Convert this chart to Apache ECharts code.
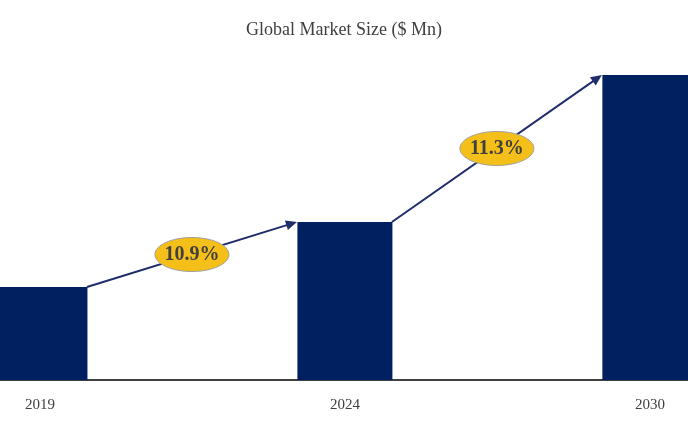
<!DOCTYPE html>
<html>
<head>
<meta charset="utf-8">
<script src="https://cdn.jsdelivr.net/npm/echarts@6/dist/echarts.min.js"></script>
<style>html,body{margin:0;padding:0;background:#fff}#chart{width:688px;height:424px}</style>
</head>
<body>
<div id="chart"></div>
<script>
const years = ["2019", "2024", "2030"];
const marketSize = [93, 158, 305];
const growthLabels = ["10.9%", "11.3%"];

const chart = echarts.init(document.getElementById("chart"));
const serif = "Liberation Serif";

chart.setOption({
    animation: false,
    backgroundColor: "#ffffff",
    title: {
        text: "Global Market Size ($ Mn)",
        left: "center",
        top: 16,
        textStyle: { color: "#404040", fontFamily: serif, fontSize: 18, fontWeight: "normal" }
    },
    grid: { left: 0, right: 0, top: 75, bottom: 44 },
    xAxis: {
        type: "value",
        min: -0.131,
        max: 2.125,
        splitLine: { show: false },
        axisLine: { lineStyle: { color: "#000", width: 1.5 } },
        axisTick: { show: false },
        axisLabel: {
            customValues: [0, 1, 2],
            formatter: v => years[Math.round(v)],
            color: "#404040", fontFamily: serif, fontSize: 15, margin: 18
        }
    },
    yAxis: { type: "value", min: 0, max: 305, show: false },
    series: [{
        type: "bar",
        data: marketSize.map((v, i) => [i, v]),
        barWidth: 95,
        itemStyle: { color: "#002060" }
    }]
});

// arrows between bar tops and growth ellipses
const graphics = [];
for (let i = 0; i < growthLabels.length; i++) {
    const a = chart.convertToPixel({ seriesIndex: 0 }, [i, marketSize[i]]);
    const b = chart.convertToPixel({ seriesIndex: 0 }, [i + 1, marketSize[i + 1]]);
    const x1 = a[0] + 47, y1 = a[1], x2 = b[0] - 48, y2 = b[1];
    const ang = Math.atan2(y2 - y1, x2 - x1);
    graphics.push({
        type: "line", z: 10,
        shape: { x1: x1, y1: y1, x2: x2 - 8 * Math.cos(ang), y2: y2 - 8 * Math.sin(ang) },
        style: { stroke: "#1f2d6b", lineWidth: 2 }
    });
    graphics.push({
        type: "polygon", z: 10,
        shape: { points: [
            [x2, y2],
            [x2 - 11 * Math.cos(ang) + 5 * Math.sin(ang), y2 - 11 * Math.sin(ang) - 5 * Math.cos(ang)],
            [x2 - 11 * Math.cos(ang) - 5 * Math.sin(ang), y2 - 11 * Math.sin(ang) + 5 * Math.cos(ang)]
        ] },
        style: { fill: "#1f2d6b" }
    });
    const cx = (x1 + x2) / 2, cy = (y1 + y2) / 2;
    graphics.push({
        type: "ellipse", z: 11,
        shape: { cx: cx, cy: cy, rx: 37, ry: 17 },
        style: { fill: "#f5bf1a", stroke: "#a0a0a0", lineWidth: 1 }
    });
    graphics.push({
        type: "text", z: 12, x: cx, y: cy,
        style: { text: growthLabels[i], fill: "#404040", font: "bold 20px 'Liberation Serif'", align: "center", verticalAlign: "middle" }
    });
}
chart.setOption({ graphic: graphics });
</script>
</body>
</html>
